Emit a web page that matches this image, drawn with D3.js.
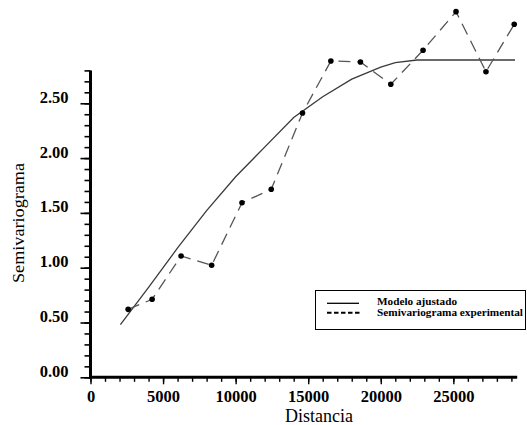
<!DOCTYPE html>
<html>
<head>
<meta charset="utf-8">
<script src="https://cdn.jsdelivr.net/npm/d3@7"></script>
<style>
  html, body { margin: 0; padding: 0; background: #fff; }
  svg { display: block; }
</style>
</head>
<body>
<svg id="chart" width="527" height="425"></svg>
<script>
// Experimental semivariogram (lag distance, semivariance)
const lagDist  = [2594, 4245, 6241, 8347, 10438, 12454, 14608, 16562, 18599, 20691, 22913, 25184, 27248, 29195];
const expGamma = [0.620, 0.712, 1.107, 1.022, 1.593, 1.715, 2.411, 2.886, 2.877, 2.673, 2.984, 3.336, 2.788, 3.221];

// Fitted model curve
const modelDist  = [2060, 4000, 6000, 8000, 10000, 12000, 14000, 16000, 18000, 20000, 21000, 22500, 29250];
const modelGamma = [0.48, 0.82, 1.18, 1.52, 1.83, 2.10, 2.37, 2.56, 2.72, 2.83, 2.87, 2.895, 2.895];

// Axis ticks
const yMajorTicks = [0, 0.5, 1.0, 1.5, 2.0, 2.5];
const xMajorTicks = [0, 5000, 10000, 15000, 20000, 25000];

const legendLabels = ["Modelo ajustado", "Semivariograma experimental"];
const xTitle = "Distancia";
const yTitle = "Semivariograma";

const svg = d3.select("#chart");
const serif = "'Liberation Serif', 'Times New Roman', serif";

const x = d3.scaleLinear().domain([0, 29400]).range([90.5, 517.2]);
const y = d3.scaleLinear().domain([0, 2.8]).range([377.3, 70.4]);

// --- Minor ticks ---
const yMinor = d3.range(0, 28.5, 1).map(d => d / 10);
const xMinor = d3.range(0, 29001, 1000);

svg.append("g")
  .attr("transform", `translate(${x(0)},0)`)
  .call(d3.axisLeft(y).tickValues(yMinor).tickSize(6).tickFormat(""))
  .call(g => g.select(".domain").remove())
  .call(g => g.selectAll("line").attr("stroke", "#000").attr("stroke-width", 1.6));

svg.append("g")
  .attr("transform", `translate(0,${y(0)})`)
  .call(d3.axisBottom(x).tickValues(xMinor).tickSize(4.5).tickFormat(""))
  .call(g => g.select(".domain").remove())
  .call(g => g.selectAll("line").attr("stroke", "#000").attr("stroke-width", 1.4));

// --- Major ticks + labels ---
const yAxis = svg.append("g")
  .attr("transform", `translate(${x(0)},0)`)
  .call(d3.axisLeft(y).tickValues(yMajorTicks).tickSize(10).tickPadding(12).tickFormat(d3.format(".2f")));
yAxis.select(".domain").remove();
yAxis.selectAll("line").attr("stroke", "#000").attr("stroke-width", 1.6);
yAxis.selectAll("text")
  .attr("dy", 0).attr("y", -1)
  .attr("fill", "#000")
  .style("font-family", serif).style("font-weight", "bold").style("font-size", "16.5px");

const xAxis = svg.append("g")
  .attr("transform", `translate(0,${y(0)})`)
  .call(d3.axisBottom(x).tickValues(xMajorTicks).tickSize(7).tickFormat(d3.format("d")));
xAxis.select(".domain").remove();
xAxis.selectAll("line").attr("stroke", "#000").attr("stroke-width", 1.4);
xAxis.selectAll("text")
  .attr("dy", 0).attr("y", 24.5)
  .attr("fill", "#000")
  .style("font-family", serif).style("font-weight", "bold").style("font-size", "16.5px");

// --- Thick axis lines ---
svg.append("line")
  .attr("x1", x(0)).attr("x2", x(0))
  .attr("y1", y(2.8)).attr("y2", y(0) + 1.5)
  .attr("stroke", "#000").attr("stroke-width", 3);
svg.append("line")
  .attr("x1", x(0) - 1.5).attr("x2", x(29400))
  .attr("y1", y(0)).attr("y2", y(0))
  .attr("stroke", "#000").attr("stroke-width", 3);

// --- Axis titles ---
svg.append("text")
  .attr("x", 319).attr("y", 422)
  .attr("text-anchor", "middle")
  .style("font-family", serif).style("font-size", "18px")
  .attr("fill", "#000")
  .text(xTitle);

svg.append("text")
  .attr("transform", "translate(24,223) rotate(-90)")
  .attr("text-anchor", "middle")
  .attr("textLength", 120).attr("lengthAdjust", "spacingAndGlyphs")
  .style("font-family", serif).style("font-size", "17px")
  .attr("fill", "#000")
  .text(yTitle);

// --- Model curve ---
const modelData = modelDist.map((d, i) => [d, modelGamma[i]]);
svg.append("path")
  .datum(modelData)
  .attr("fill", "none")
  .attr("stroke", "#3a3a3a")
  .attr("stroke-width", 1.3)
  .attr("d", d3.line().x(d => x(d[0])).y(d => y(d[1])));

// --- Experimental semivariogram ---
const expData = lagDist.map((d, i) => [d, expGamma[i]]);
svg.append("path")
  .datum(expData)
  .attr("fill", "none")
  .attr("stroke", "#555")
  .attr("stroke-width", 1.3)
  .attr("stroke-dasharray", "12,7")
  .attr("d", d3.line().x(d => x(d[0])).y(d => y(d[1])));

svg.append("g")
  .selectAll("circle")
  .data(expData)
  .join("circle")
  .attr("cx", d => x(d[0]))
  .attr("cy", d => y(d[1]))
  .attr("r", 2.8)
  .attr("fill", "#000");

// --- Legend ---
const lg = svg.append("g");
lg.append("rect")
  .attr("x", 315.5).attr("y", 290.5)
  .attr("width", 210).attr("height", 39)
  .attr("fill", "#fff").attr("stroke", "#000").attr("stroke-width", 1);
lg.append("line")
  .attr("x1", 327).attr("x2", 359).attr("y1", 303.3).attr("y2", 303.3)
  .attr("stroke", "#000").attr("stroke-width", 1.3);
lg.append("line")
  .attr("x1", 327).attr("x2", 359.5).attr("y1", 312.8).attr("y2", 312.8)
  .attr("stroke", "#000").attr("stroke-width", 2)
  .attr("stroke-dasharray", "4.5,2.5");
lg.append("text")
  .attr("x", 377).attr("y", 305)
  .attr("textLength", 80).attr("lengthAdjust", "spacingAndGlyphs")
  .style("font-family", serif).style("font-weight", "bold").style("font-size", "11px")
  .attr("fill", "#000")
  .text(legendLabels[0]);
lg.append("text")
  .attr("x", 377).attr("y", 315.5)
  .attr("textLength", 146).attr("lengthAdjust", "spacingAndGlyphs")
  .style("font-family", serif).style("font-weight", "bold").style("font-size", "11px")
  .attr("fill", "#000")
  .text(legendLabels[1]);
</script>
</body>
</html>
